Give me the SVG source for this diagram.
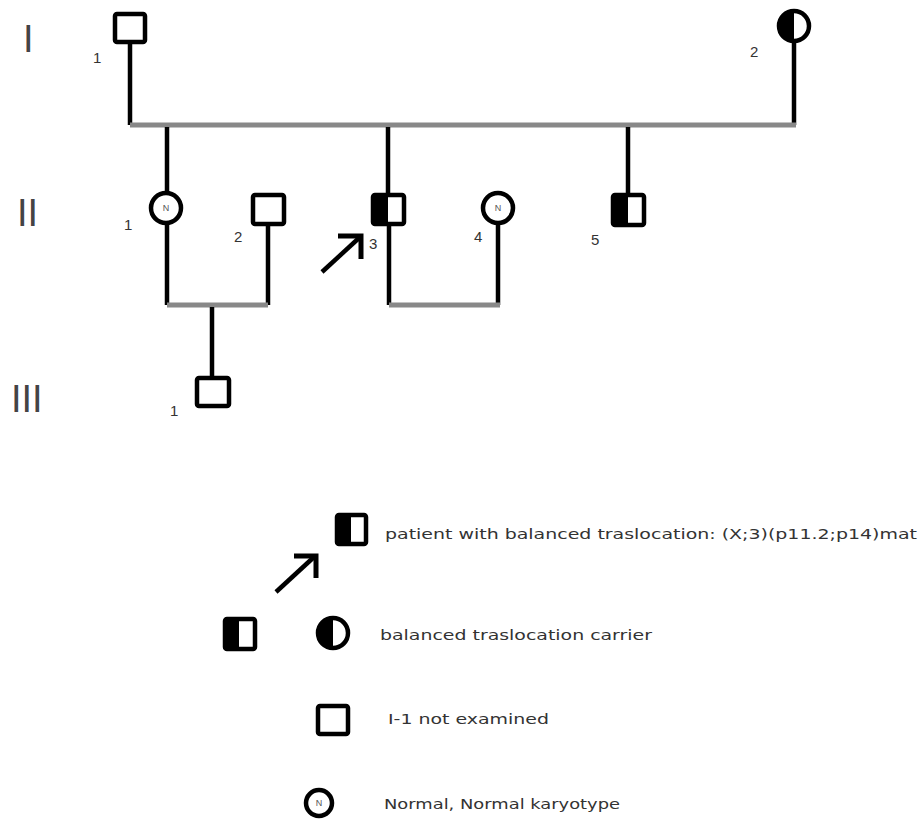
<svg xmlns="http://www.w3.org/2000/svg" width="924" height="822" viewBox="0 0 924 822">
<style>
.sq{fill:#fff;stroke:#000;stroke-width:4.5}
.ci{fill:#fff;stroke:#000;stroke-width:4.5}
.blk{fill:#000}
.ln{stroke:#000;stroke-width:4.5;fill:none}
.ah{stroke:#000;stroke-width:5;fill:none;stroke-linejoin:miter}
.gr{stroke:#888;stroke-width:5;fill:none}
.num{font-family:"Liberation Sans",Arial,sans-serif;font-size:15px;fill:#333}
.gen{font-family:"Liberation Sans",Arial,sans-serif;font-size:38px;fill:#444}
.n{font-family:"Liberation Sans",Arial,sans-serif;font-size:9px;fill:#555;text-anchor:middle}
.lg{font-family:"DejaVu Sans",Verdana,sans-serif;font-size:14px;fill:#333}
</style>
<rect width="924" height="822" fill="#fff"/>
<g id="generation-labels">
<text class="gen" x="23" y="52">I</text>
<text class="gen" x="17" y="226">II</text>
<text class="gen" x="11" y="412">III</text>
</g>
<g id="connectors">
<path class="ln" d="M130,43 V125"/>
<path class="ln" d="M794,42 V125"/>
<path class="gr" d="M130,125 H796"/>
<path class="ln" d="M167,127 V193"/>
<path class="ln" d="M388,127 V193"/>
<path class="ln" d="M628,127 V193"/>
<path class="ln" d="M167,224 V305"/>
<path class="ln" d="M268,225 V305"/>
<path class="gr" d="M167,305 H268"/>
<path class="ln" d="M212,307 V377"/>
<path class="ln" d="M389,225 V305"/>
<path class="ln" d="M498,224 V305"/>
<path class="gr" d="M389,305 H500"/>
</g>
<g id="I-1">
<rect class="sq" x="115" y="14" width="30" height="28" rx="2"/>
<text class="num" x="93" y="63">1</text>
</g>
<g id="I-2">
<circle class="ci" cx="794" cy="26" r="15"/>
<path class="blk" d="M794,11 A15,15 0 0 0 794,41 Z"/>
<text class="num" x="750" y="57">2</text>
</g>
<g id="II-1">
<circle class="ci" cx="166" cy="208" r="15"/>
<text class="n" x="166" y="211">N</text>
<text class="num" x="124" y="230">1</text>
</g>
<g id="II-2">
<rect class="sq" x="253" y="195" width="31" height="29" rx="2"/>
<text class="num" x="234" y="242">2</text>
</g>
<g id="II-3">
<rect class="sq" x="373" y="195" width="31" height="29" rx="2"/>
<rect class="blk" x="373" y="195" width="15" height="29"/>
<text class="num" x="369" y="249">3</text>
<path class="ln" d="M322,272 L359,238"/>
<path class="ah" d="M338,236 H361 V259"/>
</g>
<g id="II-4">
<circle class="ci" cx="498" cy="208" r="15"/>
<text class="n" x="498" y="211">N</text>
<text class="num" x="474" y="242">4</text>
</g>
<g id="II-5">
<rect class="sq" x="613" y="195" width="31" height="30" rx="2"/>
<rect class="blk" x="613" y="195" width="15" height="30"/>
<text class="num" x="591" y="245">5</text>
</g>
<g id="III-1">
<rect class="sq" x="197" y="378" width="32" height="28" rx="2"/>
<text class="num" x="170" y="416">1</text>
</g>
<g id="legend-patient">
<rect class="sq" x="337" y="515" width="29" height="29" rx="2"/>
<rect class="blk" x="337" y="515" width="14" height="29"/>
<path class="ln" d="M276,592 L314,557"/>
<path class="ah" d="M294,556 H316 V578"/>
<text class="lg" x="385" y="539" textLength="532" lengthAdjust="spacingAndGlyphs">patient with balanced traslocation: (X;3)(p11.2;p14)mat</text>
</g>
<g id="legend-carrier">
<rect class="sq" x="225" y="619" width="30" height="30" rx="2"/>
<rect class="blk" x="225" y="619" width="14" height="30"/>
<circle class="ci" cx="333" cy="633" r="15"/>
<path class="blk" d="M333,618 A15,15 0 0 0 333,648 Z"/>
<text class="lg" x="380" y="640" textLength="272" lengthAdjust="spacingAndGlyphs">balanced traslocation carrier</text>
</g>
<g id="legend-not-examined">
<rect class="sq" x="318" y="706" width="30" height="28" rx="2"/>
<text class="lg" x="388" y="724" textLength="161" lengthAdjust="spacingAndGlyphs">I-1 not examined</text>
</g>
<g id="legend-normal">
<circle class="ci" cx="319" cy="803" r="13"/>
<text class="n" x="319" y="806">N</text>
<text class="lg" x="384" y="809" textLength="236" lengthAdjust="spacingAndGlyphs">Normal, Normal karyotype</text>
</g>
</svg>
